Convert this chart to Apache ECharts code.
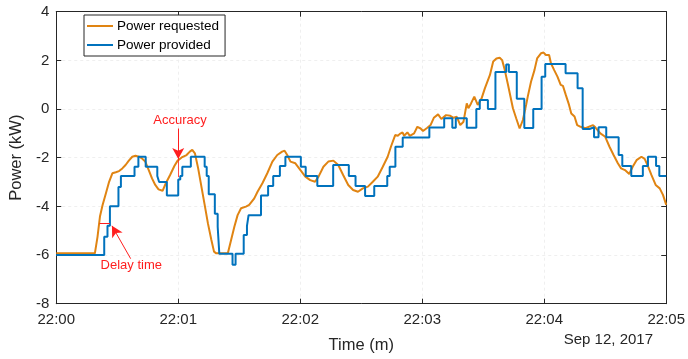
<!DOCTYPE html>
<html>
<head>
<meta charset="utf-8">
<script src="https://cdn.jsdelivr.net/npm/echarts@6/dist/echarts.min.js"></script>
<style>
  html, body { margin: 0; padding: 0; background: #fff; }
  #chart { width: 688px; height: 359px; }
</style>
</head>
<body>
<div id="chart"></div>
<script>
// Elapsed seconds since 22:00 and power in kW
const requestedT = [0,19.0,20.3,21.5,22.8,24.4,26.0,27.6,29.3,30.9,32.5,34.1,35.7,37.4,39.0,40.6,42.2,43.8,45.5,47.1,48.7,50.3,52.3,53.9,56.0,58.1,59.7,61.7,64.1,65.7,66.9,68.2,69.8,71.4,73.0,74.6,76.3,77.6,78.7,84.4,86.0,87.6,89.2,90.9,93.3,94.9,97.4,99.0,101.4,103.8,106.3,108.7,111.1,112.3,113.6,115.2,117.6,120.1,122.5,124.9,127.3,129.0,131.4,133.8,136.3,138.7,141.1,143.6,146.0,148.4,150.8,153.3,155.7,158.1,160.6,163.0,164.6,166.7,168.0,169.0,170.3,171.1,172.7,173.9,176.0,177.6,179.2,180.4,182.5,184.1,185.7,187.8,189.4,191.7,193.8,195.4,197.0,198.7,200.3,201.9,202.7,204.0,205.6,207.3,209.2,210.8,213.3,214.9,216.5,218.1,219.3,220.6,222.2,224.6,226.2,227.9,229.5,231.1,231.9,233.5,235.2,236.5,238.4,239.7,240.8,242.4,243.3,244.9,246.5,248.1,249.2,250.6,252.2,253.3,254.9,256.2,257.9,260.3,262.7,264.0,265.1,267.6,270.0,272.1,274.1,276.2,277.8,279.7,281.8,283.5,285.4,287.8,289.4,291.1,292.7,294.8,296.8,298.4,300];
const requestedKW = [-5.93,-5.93,-5.25,-4.42,-3.94,-3.47,-2.99,-2.64,-2.6,-2.55,-2.44,-2.3,-2.12,-1.96,-1.92,-1.96,-2.03,-2.16,-2.51,-2.85,-3.12,-3.3,-3.36,-3.05,-2.71,-2.34,-2.12,-1.99,-1.89,-1.75,-1.68,-1.82,-2.44,-3.19,-3.94,-4.7,-5.38,-5.86,-5.93,-5.93,-5.38,-4.84,-4.36,-4.08,-4.01,-3.94,-3.67,-3.4,-3.05,-2.64,-2.16,-1.89,-1.75,-1.71,-1.89,-2.16,-2.23,-2.51,-2.78,-2.92,-2.99,-2.78,-2.37,-2.16,-2.12,-2.3,-2.71,-3.12,-3.33,-3.4,-3.26,-3.19,-2.99,-2.78,-2.37,-1.96,-1.55,-1.07,-1.1,-1.02,-0.96,-1.1,-0.96,-1.1,-1.0,-0.73,-0.8,-0.9,-0.77,-0.66,-0.36,-0.22,-0.41,-0.25,-0.28,-0.36,-0.32,-0.66,-0.52,0.23,0.03,0.23,0.51,0.17,0.44,0.85,1.40,1.95,2.08,2.11,2.01,1.60,0.99,0.03,-0.38,-0.80,-0.45,0.17,0.51,1.12,1.6,2.08,2.29,2.32,2.22,2.22,1.88,1.6,1.33,0.99,0.95,0.58,0.17,-0.18,-0.31,-0.66,-0.73,-0.79,-0.7,-0.66,-0.75,-1.0,-1.14,-1.55,-1.89,-2.23,-2.44,-2.51,-2.67,-2.37,-2.1,-1.96,-2.05,-2.37,-2.71,-3.12,-3.26,-3.53,-3.94];

// Provided power only changes in steps: each entry is the moment a new level starts
const providedT = [0,23.6,25.2,26.4,30.6,31.8,38.5,40.4,44.0,49.7,50.6,54.4,60.0,61.0,62.0,66.2,73.0,74.0,75.0,78.0,79.4,80.2,86.7,88.2,92.2,93.8,94.6,100.7,104.2,106.7,110.0,112.7,120.3,122.7,128.4,136.2,143.9,147.2,151.9,156.4,162.8,164.0,166.8,170.4,183.5,190.8,194.8,196.5,201.9,206.6,208.3,212.3,216.0,221.3,222.6,226.5,230.2,234.6,238.7,240.5,250.5,256.4,258.9,262.3,264.5,266.7,270.5,276.6,278.4,282.8,288.5,291.0,295.0,296.6,300];
const providedKW = [-6.0,-5.25,-4.8,-4.0,-3.2,-2.75,-2.37,-1.96,-2.37,-2.75,-3.0,-3.55,-2.9,-2.75,-2.37,-1.96,-2.37,-2.75,-3.5,-4.3,-4.84,-5.95,-6.4,-5.95,-5.18,-4.8,-4.36,-3.55,-3.16,-2.75,-2.34,-1.96,-2.37,-2.75,-3.16,-2.3,-2.75,-3.16,-3.57,-3.16,-2.75,-2.37,-1.55,-1.17,-0.76,-0.38,-0.77,-0.38,-0.77,0.0,0.37,0.0,1.52,1.83,1.52,0.42,-0.78,0.0,1.33,1.85,1.47,0.85,-0.82,-0.75,-1.16,-0.75,-1.16,-1.89,-2.34,-2.75,-2.34,-1.96,-2.34,-2.75,-2.75];

const tickLabels = ['22:00', '22:01', '22:02', '22:03', '22:04', '22:05'];
const seriesNames = ['Power requested', 'Power provided'];

// Annotation anchors in data units [seconds, kW]
const accuracyArrow = [[60.0, -0.8], [60.0, -2.05]];
const accuracyGap = [[60.0, -2.05], [60.0, -2.8]];
const delayBar = [[21.3, -4.7], [26.4, -4.7]];
const delayArrow = [[36.6, -6.15], [27.4, -4.8]];
const accuracyText = [60.9, -0.45];
const delayText = [36.9, -6.44];

const zip = (xs, ys) => xs.map((x, i) => [x, ys[i]]);

const ink = '#262626';
const red = '#FF1E1E';
const orange = '#E08412';
const blue = '#0072BD';
const font = 'Liberation Sans, Arial, Helvetica, sans-serif';

const chart = echarts.init(document.getElementById('chart'), null, { renderer: 'canvas' });

const baseX = {
  type: 'value', min: 0, max: 300, interval: 60,
  axisLine: { show: true, onZero: false, lineStyle: { color: ink, width: 1 } },
  axisTick: { show: true, inside: true, length: 5, lineStyle: { color: ink } },
  splitLine: { show: false }
};
const baseY = {
  type: 'value', min: -8, max: 4, interval: 2,
  axisLine: { show: true, onZero: false, lineStyle: { color: ink, width: 1 } },
  axisTick: { show: true, inside: true, length: 5, lineStyle: { color: ink } },
  splitLine: { show: false }
};

chart.setOption({
  animation: false,
  backgroundColor: '#fff',
  textStyle: { fontFamily: font },
  grid: { left: 51.5, right: 19.7, top: 11.7, bottom: 55.3, containLabel: false },
  legend: {
    orient: 'vertical', left: 84, top: 15,
    data: seriesNames,
    icon: 'rect', itemWidth: 26, itemHeight: 2, itemGap: 5,
    padding: [4, 6, 4, 3],
    borderColor: ink, borderWidth: 1, backgroundColor: '#fff',
    textStyle: { color: '#000', fontSize: 13.5, fontFamily: font, padding: [0, 0, 0, -1] }
  },
  xAxis: [
    Object.assign({}, baseX, {
      position: 'bottom',
      name: 'Time (m)', nameLocation: 'middle', nameGap: 33,
      nameTextStyle: { color: ink, fontSize: 16.5, fontFamily: font },
      axisLabel: {
        color: ink, fontSize: 15, margin: 9, fontFamily: font,
        formatter: v => tickLabels[Math.round(v / 60)]
      },
      splitLine: { show: true, lineStyle: { color: '#efefef', width: 1, type: [3, 3] } }
    }),
    Object.assign({}, baseX, { position: 'top', axisLabel: { show: false } })
  ],
  yAxis: [
    Object.assign({}, baseY, {
      position: 'left',
      name: 'Power (kW)', nameLocation: 'middle', nameGap: 31,
      nameTextStyle: { color: ink, fontSize: 16.5, fontFamily: font },
      axisLabel: { color: ink, fontSize: 15, margin: 7, fontFamily: font },
      splitLine: { show: true, lineStyle: { color: '#efefef', width: 1, type: [3, 3] } }
    }),
    Object.assign({}, baseY, { position: 'right', axisLabel: { show: false } })
  ],
  graphic: [{
    type: 'text', right: 35, top: 332,
    style: { text: 'Sep 12, 2017', fill: ink, font: '15px ' + font }
  }],
  series: [
    {
      name: seriesNames[0], type: 'line', xAxisIndex: 0, yAxisIndex: 0,
      data: zip(requestedT, requestedKW),
      showSymbol: false, symbol: 'none', z: 2,
      lineStyle: { color: orange, width: 2 }, itemStyle: { color: orange }
    },
    {
      name: seriesNames[1], type: 'line', xAxisIndex: 0, yAxisIndex: 0,
      data: zip(providedT, providedKW), step: 'end',
      showSymbol: false, symbol: 'none', z: 3,
      lineStyle: { color: blue, width: 2 }, itemStyle: { color: blue },
      markLine: {
        silent: true, animation: false, symbolSize: [9, 11],
        label: { show: false },
        lineStyle: { color: red, width: 1, type: 'solid' },
        emphasis: { disabled: true },
        data: [
          [{ coord: accuracyArrow[0], symbol: 'none' }, { coord: accuracyArrow[1], symbol: 'arrow' }],
          [{ coord: accuracyGap[0], symbol: 'none', lineStyle: { width: 0.8 } }, { coord: accuracyGap[1], symbol: 'none' }],
          [{ coord: delayBar[0], symbol: 'none' }, { coord: delayBar[1], symbol: 'none' }],
          [{ coord: delayArrow[0], symbol: 'none' }, { coord: delayArrow[1], symbol: 'arrow' }]
        ]
      },
      markPoint: {
        silent: true, animation: false, symbol: 'circle', symbolSize: 0,
        label: { show: true, position: 'inside', color: red, fontSize: 13, fontFamily: font, formatter: p => p.name },
        data: [
          { name: 'Accuracy', coord: accuracyText },
          { name: 'Delay time', coord: delayText }
        ]
      }
    }
  ]
});
</script>
</body>
</html>
